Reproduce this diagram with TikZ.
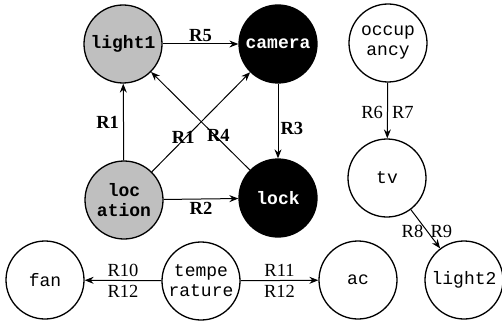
\documentclass[tikz,border=0pt]{standalone}
\usepackage{fontspec}
\setmainfont{Liberation Serif}
\setmonofont{Liberation Mono}
\usetikzlibrary{arrows.meta}
\begin{document}
\begin{tikzpicture}[x=1pt,y=-1pt,
  st/.style={circle,draw=black,line width=1.3pt,minimum size=78pt,inner sep=0pt,
    font=\fontsize{18}{20}\selectfont\ttfamily,align=center},
  grayst/.style={st,fill=black!25,font=\fontsize{18}{20}\selectfont\ttfamily\bfseries},
  blackst/.style={st,fill=black,text=white,font=\fontsize{18}{20}\selectfont\ttfamily\bfseries},
  conn/.style={line width=1pt,-{Stealth[length=9pt,width=7pt,inset=3pt]}},
  blab/.style={font=\fontsize{18.5}{20}\selectfont\bfseries,inner sep=2pt},
  rlab/.style={font=\fontsize{18.5}{21}\selectfont,inner sep=2pt,align=center}]
\useasboundingbox (0,0) rectangle (502,326);
\node[grayst] (light1) at (123,44) {light1};
\node[blackst] (camera) at (278,44) {camera};
\node[grayst] (location) at (124,200) {loc\\ation};
\node[blackst] (lock) at (278,198) {lock};
\node[st] (occupancy) at (388,43) {occup\\ancy};
\node[st] (tv) at (387,178) {tv};
\node[st] (light2) at (464,280) {light2};
\node[st] (fan) at (45,280) {fan};
\node[st] (temperature) at (201,281) {tempe\\rature};
\node[st] (ac) at (358,280) {ac};

\draw[conn] (light1) -- node[blab,above] {R5} (camera);
\draw[conn] (location) -- node[blab,left,xshift=-2pt] {R1} (light1);
\draw[conn] (location) -- node[blab,pos=0.38,xshift=-6pt,yshift=-3pt] {R1} (camera);
\draw[conn] (lock) -- node[blab,pos=0.38,xshift=6pt,yshift=-3pt] {R4} (light1);
\draw[conn] (camera) -- node[blab,right,yshift=-7pt] {R3} (lock);
\draw[conn] (location) -- node[blab,below,yshift=-1pt] {R2} (lock);
\draw[conn] (occupancy) -- node[rlab,yshift=-2pt] {R6\hspace{0.5em}R7} (tv);
\draw[conn] (tv) -- node[rlab,pos=0.55] {R8\hspace{0.4em}R9} (light2);
\draw[conn] (temperature) -- node[rlab] {R10\\R12} (fan);
\draw[conn] (temperature) -- node[rlab] {R11\\R12} (ac);
\end{tikzpicture}
\end{document}
